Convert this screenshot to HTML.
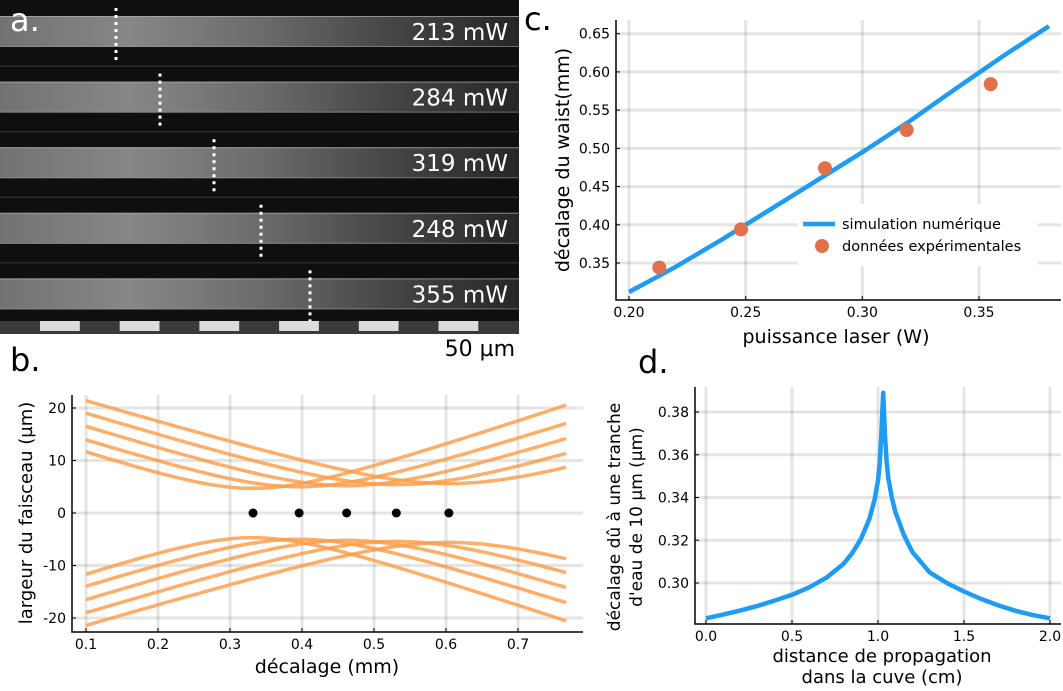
<!DOCTYPE html>
<html><head><meta charset="utf-8">
<style>
html,body{margin:0;padding:0;background:#fff;}
svg{display:block;font-family:"DejaVu Sans","Liberation Sans",sans-serif;}
</style></head>
<body>
<svg id="fig" width="1063" height="691" viewBox="0 0 1063 691" xmlns="http://www.w3.org/2000/svg">
<defs>
<linearGradient id="strip" x1="0" x2="1" y1="0" y2="0">
<stop offset="0" stop-color="#727272"/><stop offset="0.25" stop-color="#878787"/><stop offset="0.5" stop-color="#6c6c6c"/><stop offset="0.75" stop-color="#464646"/><stop offset="1" stop-color="#262626"/>
</linearGradient>
</defs>
<g id="panelA"></g>
<g id="panelB"></g>
<g id="panelC"></g>
<g id="panelD"></g>
</svg>
<script>
// ---- Panel a data
const aPowers = ["213 mW","284 mW","319 mW","248 mW","355 mW"];
const aWaistX = [116,160,214,261,310];
// ---- Panel b data
const bCenters = [0.332,0.396,0.462,0.531,0.604];
const bWaists = [4.7,5.0,5.2,5.4,5.6];
const bSlopes = [46,44,43.3,42.3,41];
const bXTicks = [0.1,0.2,0.3,0.4,0.5,0.6,0.7];
const bYTicks = [-20,-10,0,10,20];
// ---- Panel c data
const cSimX = [0.20,0.22,0.24,0.26,0.28,0.30,0.32,0.34,0.36,0.38];
const cSimY = [0.312,0.345,0.381,0.419,0.457,0.495,0.535,0.578,0.620,0.660];
const cExpX = [0.213,0.248,0.284,0.319,0.355];
const cExpY = [0.344,0.394,0.474,0.524,0.584];
const cXTicks = [0.20,0.25,0.30,0.35];
const cYTicks = [0.35,0.40,0.45,0.50,0.55,0.60,0.65];
// ---- Panel d data
const dX = [0,0.1,0.2,0.3,0.4,0.5,0.6,0.7,0.8,0.85,0.9,0.95,0.98,1.0,1.01,1.02,1.025,1.03,1.035,1.04,1.05,1.06,1.08,1.1,1.15,1.2,1.3,1.4,1.5,1.6,1.7,1.8,1.9,2.0];
const dY = [0.2835,0.2852,0.2872,0.2893,0.2918,0.2945,0.2980,0.3025,0.3090,0.3140,0.3205,0.3300,0.3390,0.3480,0.3560,0.3700,0.3800,0.3890,0.3800,0.3700,0.3570,0.3490,0.3400,0.3335,0.3225,0.3145,0.3050,0.3000,0.2960,0.2925,0.2895,0.2870,0.2850,0.2835];
const dXTicks = [0.0,0.5,1.0,1.5,2.0];
const dYTicks = [0.30,0.32,0.34,0.36,0.38];

const NS="http://www.w3.org/2000/svg";
function mk(parent,tag,attrs,text){const e=document.createElementNS(NS,tag);for(const k in attrs)e.setAttribute(k,attrs[k]);if(text!==undefined)e.textContent=text;parent.appendChild(e);return e;}
const GRID="rgba(0,0,0,0.1)";

// ===== Panel A
(function(){
  const g=document.getElementById('panelA');
  let r=mk(g,'rect',{x:0,y:0,width:519,height:334,fill:'#0f0f0f'});
  
  
  const frameH=65.6;
  aPowers.forEach((p,i)=>{
    const y0=i*frameH;
    if(i>0){let s=mk(g,'line',{x1:0,x2:519,y1:y0+0.5,y2:y0+0.5,stroke:'#3a3a3a','stroke-width':1});
      
      }
    let st=mk(g,'rect',{x:0,y:y0+16,width:519,height:31,fill:'url(#strip)'});
    
    
    mk(g,'line',{x1:0,x2:519,y1:y0+16.5,y2:y0+16.5,stroke:'#b0b0b0','stroke-width':1,'stroke-opacity':0.7});
    mk(g,'line',{x1:0,x2:519,y1:y0+46.5,y2:y0+46.5,stroke:'#999','stroke-width':1,'stroke-opacity':0.6});
    let wl=mk(g,'line',{x1:aWaistX[i],x2:aWaistX[i],y1:y0+8,y2:y0+61,stroke:'#fff','stroke-width':3,'stroke-dasharray':'3 4'});
    
    
    let t=mk(g,'text',{x:508,y:y0+40,'font-size':23,fill:'#fff','text-anchor':'end'},p);
    
    
  });
  let sb=mk(g,'rect',{x:0,y:321,width:519,height:13,fill:'#3a3a3a'});
  
  
  for(let k=0;k<6;k++){mk(g,'rect',{x:40+k*79.7,y:321,width:39.8,height:10,fill:'#dcdcdc'});}
  let a=mk(g,'text',{x:10,y:31,'font-size':32,fill:'#fff'},'a.');
  
  
  let sl=mk(g,'text',{x:515,y:356,'font-size':22,fill:'#000','text-anchor':'end'},'50 µm');
  
  
})();

// generic axes
function axes(g,o){
  const sx=v=>o.x0+(v-o.vx0)*(o.x1-o.x0)/(o.vx1-o.vx0);
  const sy=v=>o.y0+(v-o.vy0)*(o.y1-o.y0)/(o.vy1-o.vy0);
  o.xt.forEach(v=>{let l=mk(g,'line',{x1:sx(v),x2:sx(v),y1:o.top,y2:o.bottom,stroke:GRID,'stroke-width':3});
    
    
    mk(g,'line',{x1:sx(v),x2:sx(v),y1:o.bottom,y2:o.bottom-4,stroke:'#000','stroke-width':1});
    let t=mk(g,'text',{x:sx(v),y:o.bottom+17,'font-size':14,'text-anchor':'middle',fill:'#000'},v.toFixed(o.xd));
    
    });
  o.yt.forEach(v=>{let l=mk(g,'line',{x1:o.left,x2:o.right,y1:sy(v),y2:sy(v),stroke:GRID,'stroke-width':3});
    
    
    mk(g,'line',{x1:o.left,x2:o.left+4,y1:sy(v),y2:sy(v),stroke:'#000','stroke-width':1});
    let t=mk(g,'text',{x:o.left-6,y:sy(v)+5,'font-size':14,'text-anchor':'end',fill:'#000'},v.toFixed(o.yd));
    
    });
  let ax=mk(g,'path',{d:`M${o.left},${o.top}V${o.bottom}H${o.right}`,fill:'none',stroke:'#000','stroke-width':1.5});
  
  
  return {sx,sy};
}

// ===== Panel B
(function(){
  const g=document.getElementById('panelB');
  const {sx,sy}=axes(g,{x0:86,x1:518,vx0:0.1,vx1:0.7,y0:513,y1:408,vy0:0,vy1:20,left:72,right:583,top:395,bottom:632,xt:bXTicks,yt:bYTicks,xd:1,yd:0});
  bCenters.forEach((c,i)=>{
    [1,-1].forEach(sgn=>{
      let d='';
      for(let k=0;k<=80;k++){const z=0.1+k*(0.667/80);const w=Math.sqrt(bWaists[i]**2+(bSlopes[i]*(z-c))**2)*sgn;d+=(k?'L':'M')+sx(z).toFixed(1)+','+sy(w).toFixed(1);}
      let p=mk(g,'path',{d,fill:'none',stroke:'#ff9a44','stroke-opacity':0.8,'stroke-width':3.5});
      
      
    });
    let dot=mk(g,'circle',{cx:sx(c),cy:sy(0),r:4.5,fill:'#000'});
    
    
  });
  let yl=mk(g,'text',{x:0,y:0,'font-size':18,'text-anchor':'middle',transform:'translate(32,513) rotate(-90)'},'largeur du faisceau (µm)');
  
  
  let xl=mk(g,'text',{x:327,y:673,'font-size':19,'text-anchor':'middle'},'décalage (mm)');
  
  
  let b=mk(g,'text',{x:10,y:371,'font-size':32},'b.');
  
  
})();

// ===== Panel C
(function(){
  const g=document.getElementById('panelC');
  const {sx,sy}=axes(g,{x0:629,x1:979,vx0:0.20,vx1:0.35,y0:263,y1:33.7,vy0:0.35,vy1:0.65,left:616,right:1061,top:20,bottom:300,xt:cXTicks,yt:cYTicks,xd:2,yd:2});
  let d=cSimX.map((v,i)=>(i?'L':'M')+sx(v).toFixed(1)+','+sy(cSimY[i]).toFixed(1)).join('');
  let lg=mk(g,'rect',{x:798,y:204,width:240,height:62,fill:'#fff'});
  
  
  let p=mk(g,'path',{d,fill:'none',stroke:'#1e9cf5','stroke-width':4.5});
  
  
  cExpX.forEach((v,i)=>{let c=mk(g,'circle',{cx:sx(v),cy:sy(cExpY[i]),r:7,fill:'#e2704a'});
    
    });
  mk(g,'line',{x1:803,x2:835,y1:224,y2:224,stroke:'#1e9cf5','stroke-width':4.5});
  let t1=mk(g,'text',{x:842,y:229,'font-size':14.5},'simulation numérique');
  
  
  mk(g,'circle',{cx:822,cy:246,r:7,fill:'#e2704a'});
  let t2=mk(g,'text',{x:842,y:251,'font-size':14.5},'données expérimentales');
  
  
  let yl=mk(g,'text',{x:0,y:0,'font-size':19,'text-anchor':'middle',transform:'translate(569,160) rotate(-90)'},'décalage du waist(mm)');
  
  
  let xl=mk(g,'text',{x:836,y:343,'font-size':19,'text-anchor':'middle'},'puissance laser (W)');
  
  
  let c=mk(g,'text',{x:524,y:30,'font-size':32},'c.');
  
  
})();

// ===== Panel D
(function(){
  const g=document.getElementById('panelD');
  const {sx,sy}=axes(g,{x0:706,x1:1050,vx0:0,vx1:2,y0:583,y1:412,vy0:0.30,vy1:0.38,left:695,right:1061,top:387,bottom:624,xt:dXTicks,yt:dYTicks,xd:1,yd:2});
  let d=dX.map((v,i)=>(i?'L':'M')+sx(v).toFixed(1)+','+sy(dY[i]).toFixed(1)).join('');
  let p=mk(g,'path',{d,fill:'none',stroke:'#1e9cf5','stroke-width':4.5,'stroke-linejoin':'round'});
  
  
  let y1=mk(g,'text',{x:0,y:0,'font-size':17,'text-anchor':'middle',transform:'translate(620,517) rotate(-90)'},'décalage dû à une tranche');
  
  
  let y2=mk(g,'text',{x:0,y:0,'font-size':17,'text-anchor':'middle',transform:'translate(642,517) rotate(-90)'},"d'eau de 10 µm (µm)");
  
  
  let x1=mk(g,'text',{x:882,y:662,'font-size':18,'text-anchor':'middle'},'distance de propagation');
  
  
  let x2=mk(g,'text',{x:882,y:683,'font-size':18,'text-anchor':'middle'},'dans la cuve (cm)');
  
  
  let dl=mk(g,'text',{x:638,y:373,'font-size':32},'d.');
  
  
})();
</script>
</body></html>
